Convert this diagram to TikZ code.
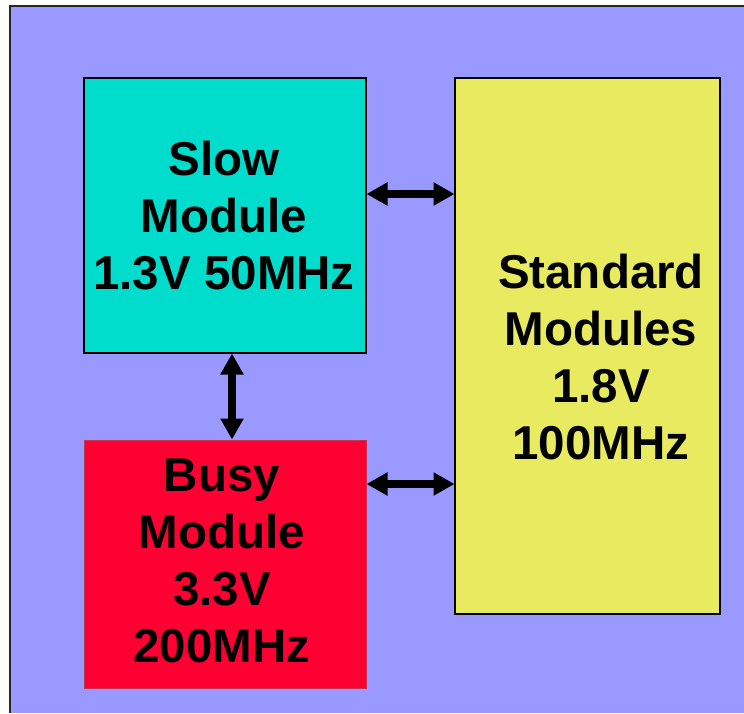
\documentclass[tikz,border=0pt]{standalone}
\usepackage{fontspec}
\setmainfont{Liberation Sans}
\usetikzlibrary{arrows.meta}
\definecolor{bgc}{RGB}{153,153,255}
\definecolor{slowc}{RGB}{0,221,204}
\definecolor{busyc}{RGB}{255,0,51}
\definecolor{stdc}{RGB}{232,234,96}
\tikzset{
  modbox/.style={draw=black, line width=1.4pt, inner sep=0pt, outer sep=0pt},
  modtext/.style={font=\fontsize{47.5}{57}\selectfont\bfseries, align=center, text=black},
  link/.style={line width=7.5pt, {Triangle[length=21pt,width=22pt]}-{Triangle[length=21pt,width=22pt]}, shorten <=0.5pt, shorten >=0.5pt}
}
\begin{document}
\begin{tikzpicture}[x=1pt,y=-1pt]
\useasboundingbox (0,0) rectangle (744,713);
\fill[white] (0,0) rectangle (744,713);
\fill[bgc] (10,6) rectangle (744,713);
\draw[line width=1.5pt, black!85] (10,713) -- (10,6) -- (744,6);
% boxes
\node[modbox, fill=slowc, minimum width=282pt, minimum height=275pt, anchor=north west] (slow) at (84,78) {};
\node[modbox, draw=busyc!70!black!80, line width=1pt, fill=busyc, minimum width=282pt, minimum height=248pt, anchor=north west] (busy) at (84,440) {};
\node[modbox, fill=stdc, minimum width=265pt, minimum height=536pt, anchor=north west] (std) at (455,78) {};
% texts
\node[modtext] (slowt) at (224,216) {Slow\\Module\\1.3V 50MHz};
\node[modtext] (busyt) at (222,561) {Busy\\Module\\3.3V\\200MHz};
\node[modtext] (stdt) at (601,357) {Standard\\Modules\\1.8V\\100MHz};
% connectors
\coordinate (a1) at (slow.east |- 0,194);
\coordinate (a2) at (std.west |- 0,194);
\draw[link] (a1) -- (a2);
\coordinate (b1) at (232,0 |- slow.south);
\coordinate (b2) at (232,0 |- busy.north);
\draw[link] (b1) -- (b2);
\coordinate (c1) at (busy.east |- 0,484);
\coordinate (c2) at (std.west |- 0,484);
\draw[link] (c1) -- (c2);
\end{tikzpicture}
\end{document}
